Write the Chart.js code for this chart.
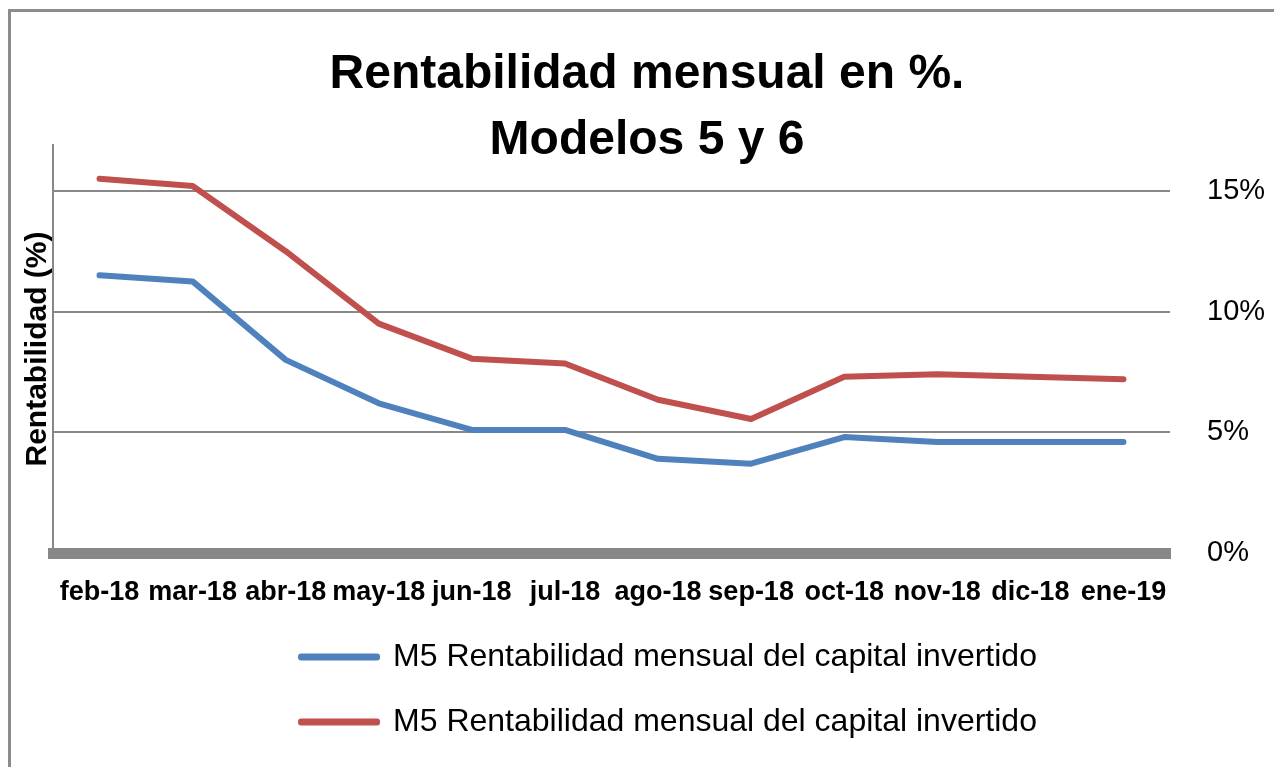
<!DOCTYPE html>
<html>
<head>
<meta charset="utf-8">
<script src="https://cdn.jsdelivr.net/npm/chart.js@4.4.1/dist/chart.umd.min.js"></script>
<style>
  html, body { margin:0; padding:0; background:#fff; overflow:hidden; }
  #frame { position:absolute; left:8px; top:9px; width:1300px; height:800px;
           border-top:3px solid #8c8c8c; border-left:3px solid #8c8c8c; }
  #wrap { position:absolute; left:0; top:0; width:1274px; height:748px; }
</style>
</head>
<body>
<div id="frame"></div>
<div id="wrap"><canvas id="chart"></canvas></div>
<script>
// ---- data ----
const months = ["feb-18","mar-18","abr-18","may-18","jun-18","jul-18","ago-18","sep-18","oct-18","nov-18","dic-18","ene-19"];
const m5Values = [11.5, 11.25, 8.0, 6.2, 5.1, 5.1, 3.9, 3.7, 4.8, 4.6, 4.6, 4.6];
const m6Values = [15.5, 15.2, 12.5, 9.5, 8.05, 7.85, 6.35, 5.55, 7.3, 7.4, 7.3, 7.2];
const yTicks = [0, 5, 10, 15];
const seriesNames = ["M5 Rentabilidad mensual del capital invertido", "M5 Rentabilidad mensual del capital invertido"];

const FONT = "'Liberation Sans', Arial, sans-serif";
const GRAY = "#888888";

const ctx = document.getElementById("chart").getContext("2d");

function lineSet(label, data, color){
  return {
    label, data,
    borderColor: color, backgroundColor: color,
    borderWidth: 6, borderCapStyle: "round", borderJoinStyle: "round",
    pointRadius: 0, pointHoverRadius: 0, tension: 0, fill: false,
    yAxisID: "y"
  };
}

// legend sits a bit right of centre in the original
const legendShift = {
  id: "legendShift",
  afterLayout(chart){
    const l = chart.legend;
    if(!l) return;
    l.left += 22; l.right += 22;
  }
};

new Chart(ctx, {
  type: "line",
  data: {
    labels: months,
    datasets: [
      lineSet(seriesNames[0], m5Values, "#4F81BD"),
      lineSet(seriesNames[1], m6Values, "#C0504D")
    ]
  },
  plugins: [legendShift],
  options: {
    responsive: true,
    maintainAspectRatio: false,
    animation: false,
    layout: { padding: { left: 29, right: 9, top: 0, bottom: 0 } },
    plugins: {
      tooltip: { enabled: false },
      title: {
        display: true,
        text: ["Rentabilidad mensual en %.", "Modelos 5 y 6"],
        color: "#000",
        font: { family: FONT, size: 48, weight: "bold", lineHeight: 1.375 },
        padding: { top: 42, bottom: -29 }
      },
      legend: {
        display: true,
        position: "bottom",
        labels: {
          color: "#000",
          font: { family: FONT, size: 32 },
          boxWidth: 76,
          boxHeight: 1,
          padding: 33
        }
      }
    },
    scales: {
      x: {
        offset: true,
        afterFit: s => { s.height = 55; },
        grid: { display: false, drawTicks: false },
        border: { display: true, color: GRAY, width: 11 },
        ticks: {
          color: "#000", padding: 23, maxRotation: 0, autoSkip: false,
          font: { family: FONT, size: 27, weight: "bold" }
        }
      },
      y: {
        position: "right",
        min: 0, max: 16.9,
        afterBuildTicks: s => { s.ticks = yTicks.map(v => ({ value: v })); },
        afterFit: s => { s.width = 95; },
        grid: { color: GRAY, lineWidth: 2, drawTicks: false },
        border: { display: false },
        ticks: {
          color: "#000", padding: 37,
          font: { family: FONT, size: 29 },
          callback: v => v + "%"
        }
      },
      yTitle: {
        type: "linear",
        position: "left",
        afterFit: s => { s.width = 24; },
        grid: { display: false, drawTicks: false, drawOnChartArea: false },
        border: { display: true, color: GRAY, width: 2 },
        ticks: { display: false },
        title: {
          display: true,
          text: "Rentabilidad (%)",
          color: "#000",
          font: { family: FONT, size: 30, weight: "bold", lineHeight: 0.6 },
          padding: { top: 0, bottom: 0 }
        }
      }
    }
  }
});
</script>
</body>
</html>
